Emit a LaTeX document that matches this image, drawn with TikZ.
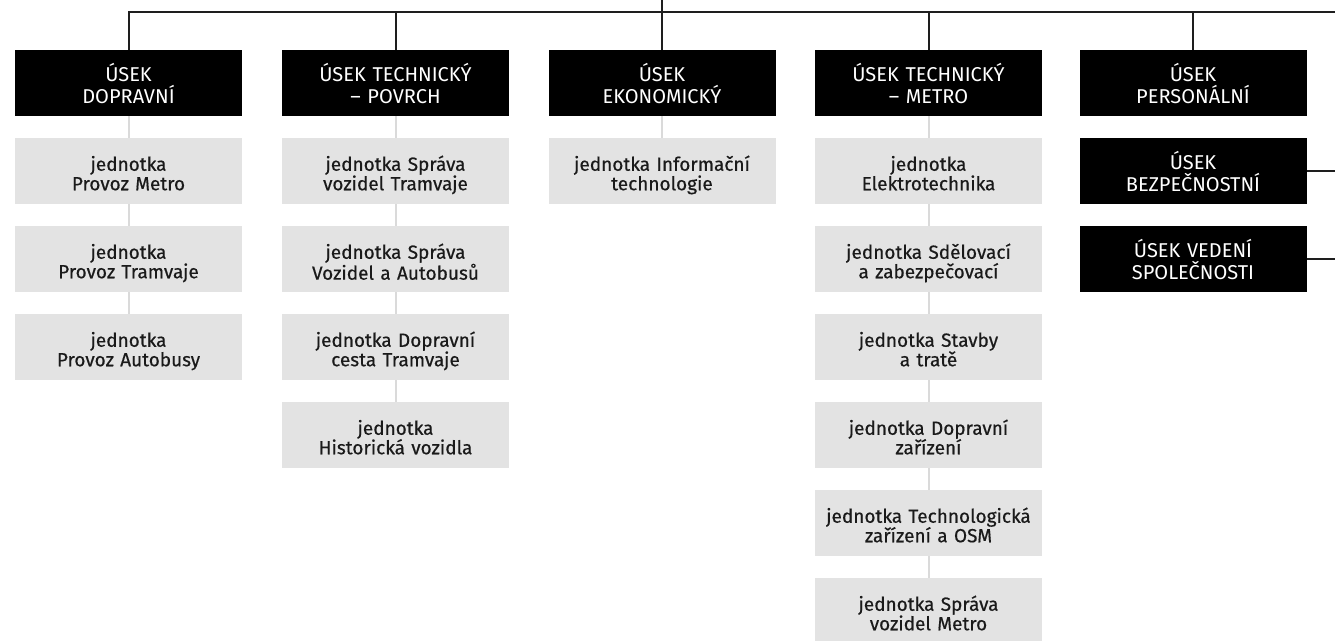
\documentclass[tikz,border=0pt]{standalone}
\usepackage{fontspec}
\setmainfont{Fira Sans}
\definecolor{boxgrey}{HTML}{E3E3E3}
\definecolor{linegrey}{HTML}{DADADA}
\definecolor{textdark}{HTML}{1A1A1A}
\definecolor{busline}{HTML}{1E1E1E}
\begin{document}
\begin{tikzpicture}[x=1pt,y=-1pt,
  usek/.style={fill=black, text=white, minimum width=227pt, minimum height=66pt, text width=227pt, align=center, inner sep=0pt, text height=20pt, text depth=24pt, font=\fontsize{20}{22}\selectfont},
  jedn/.style={fill=boxgrey, text=textdark, minimum width=227pt, minimum height=66pt, text width=227pt, align=center, inner sep=0pt, text height=24pt, text depth=24.5pt, font=\fontsize{19}{19.5}\selectfont\addfontfeatures{FakeBold=0.5}},
  bus/.style={draw=busline, line width=2pt},
  gline/.style={draw=linegrey, line width=2pt}]
\useasboundingbox (0,0) rectangle (1335,640);
% black headers
\node[usek] (b1) at (128.5,83) {ÚSEK\\DOPRAVNÍ};
\node[usek] (b2) at (395.5,83) {ÚSEK TECHNICKÝ\\– POVRCH};
\node[usek] (b3) at (662,83) {ÚSEK\\EKONOMICKÝ};
\node[usek] (b4) at (928.5,83) {ÚSEK TECHNICKÝ\\– METRO};
\node[usek] (b5) at (1193,83) {ÚSEK\\PERSONÁLNÍ};
\node[usek] (b6) at (1193,171) {ÚSEK\\BEZPEČNOSTNÍ};
\node[usek] (b7) at (1193,259) {ÚSEK VEDENÍ\\SPOLEČNOSTI};
% column 1
\node[jedn] (g11) at (128.5,171) {jednotka\\Provoz Metro};
\node[jedn] (g12) at (128.5,259) {jednotka\\Provoz Tramvaje};
\node[jedn] (g13) at (128.5,347) {jednotka\\Provoz Autobusy};
% column 2
\node[jedn] (g21) at (395.5,171) {jednotka Správa\\vozidel Tramvaje};
\node[jedn] (g22) at (395.5,259) {jednotka Správa\\Vozidel a Autobusů};
\node[jedn] (g23) at (395.5,347) {jednotka Dopravní\\cesta Tramvaje};
\node[jedn] (g24) at (395.5,435) {jednotka\\Historická vozidla};
% column 3
\node[jedn] (g31) at (662,171) {jednotka Informační\\technologie};
% column 4
\node[jedn] (g41) at (928.5,171) {jednotka\\Elektrotechnika};
\node[jedn] (g42) at (928.5,259) {jednotka Sdělovací\\a zabezpečovací};
\node[jedn] (g43) at (928.5,347) {jednotka Stavby\\a tratě};
\node[jedn] (g44) at (928.5,435) {jednotka Dopravní\\zařízení};
\node[jedn] (g45) at (928.5,523) {jednotka Technologická\\zařízení a OSM};
\node[jedn] (g46) at (928.5,611) {jednotka Správa\\vozidel Metro};
% grey connectors
\draw[gline] (b1.south) -- (g11.north) (g11.south) -- (g12.north) (g12.south) -- (g13.north);
\draw[gline] (b2.south) -- (g21.north) (g21.south) -- (g22.north) (g22.south) -- (g23.north) (g23.south) -- (g24.north);
\draw[gline] (b3.south) -- (g31.north);
\draw[gline] (b4.south) -- (g41.north) (g41.south) -- (g42.north) (g42.south) -- (g43.north) (g43.south) -- (g44.north) (g44.south) -- (g45.north) (g45.south) -- (g46.north);
% bus
\coordinate (top) at (662,0);
\coordinate (busR) at (1335,12);
\coordinate (r6) at (1335,171);
\coordinate (r7) at (1335,259);
\draw[bus] (b1.north) |- (busR);
\draw[bus] (top) -- (b3.north);
\draw[bus] (b2.north) -- (b2.north |- busR);
\draw[bus] (b4.north) -- (b4.north |- busR);
\draw[bus] (b5.north) -- (b5.north |- busR);
\draw[bus] (b6.east) -- (r6);
\draw[bus] (b7.east) -- (r7);
\end{tikzpicture}
\end{document}
